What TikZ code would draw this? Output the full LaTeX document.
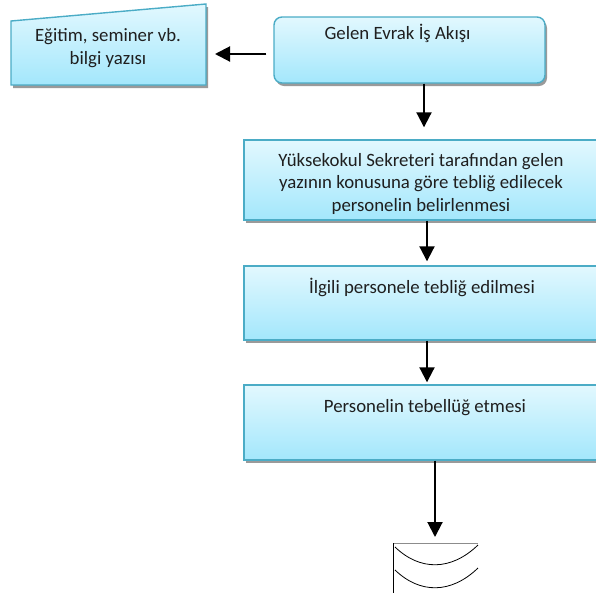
\documentclass[tikz,border=0pt]{standalone}
\usepackage{fontspec}
\setmainfont{Carlito}
\usetikzlibrary{arrows.meta,shadows,calc}
\definecolor{boxedge}{HTML}{4BACC6}
\definecolor{boxtop}{HTML}{E2F8FE}
\definecolor{boxbot}{HTML}{A3E7FC}
\definecolor{shadowgray}{HTML}{9A9A9A}
\tikzset{
  flowfill/.style={draw=boxedge, line width=1.4pt, top color=boxtop, bottom color=boxbot, inner sep=0pt},
  flowbox/.style={flowfill,
    drop shadow={shadow xshift=2pt, shadow yshift=-3pt, fill=shadowgray, opacity=1}},
  boxtext/.style={font=\fontsize{18.8}{22.5}\selectfont, align=center, text=black!88, inner sep=0pt, anchor=base},
  flowarrow/.style={line width=2pt, -{Triangle[length=15pt,width=15pt]}},
  thinline/.style={line width=0.8pt}
}
\begin{document}
\begin{tikzpicture}[x=1pt,y=-1pt]
\useasboundingbox (0,0) rectangle (596,592);
\clip (0,0) rectangle (596,592);
% manual input shape
\fill[shadowgray] (13,24) -- (208,7) -- (208,88) -- (13,88) -- cycle;
\path[flowfill] (11,21) coordinate (mi1) -- (206,4) coordinate (mi2) -- (206,85) coordinate (mi3) -- (11,85) coordinate (mi4) -- cycle;
\coordinate (mieast) at (206,54);
\node[boxtext] (mitext) at (108,64) {Eğitim, seminer vb.\\bilgi yazısı};
% top rounded box
\node[flowbox, rounded corners=8pt, minimum width=271pt, minimum height=66pt] (top) at (409.5,50) {};
\node[boxtext] (ttop) at (397.5,39) {Gelen Evrak İş Akışı};
% process boxes
\node[flowbox, minimum width=366pt, minimum height=80pt] (b2) at (427,180) {};
\node[boxtext] (t2) at (421,211) {Yüksekokul Sekreteri tarafından gelen\\yazının konusuna göre tebliğ edilecek\\personelin belirlenmesi};
\node[flowbox, minimum width=366pt, minimum height=74pt] (b3) at (427,303) {};
\node[boxtext] (t3) at (422,293) {İlgili personele tebliğ edilmesi};
\node[flowbox, minimum width=366pt, minimum height=75pt] (b4) at (427,422.5) {};
\node[boxtext] (t4) at (425,412) {Personelin tebellüğ etmesi};
% bottom connector shape
\coordinate (conn) at (435,543);
\draw[thinline, draw=black!45] (393,543) -- (478,543);
\draw[thinline] (393,543) -- (393,600);
\draw[thinline] (395,547) .. controls (420,571) and (451,571) .. (478,545);
\draw[thinline] (395,570) .. controls (420,594) and (451,594) .. (478,568);
% arrows
\draw[flowarrow] ($(top.west |- mieast)+(-7,0)$) coordinate (a0) -- ($(mieast)+(9,0)$);
\draw[flowarrow, shorten >=12pt] ($(top.south -| b2.north)+(-3,0)$) -- ($(b2.north)+(-3,0)$);
\draw[flowarrow, shorten >=4pt] (b2.south) -- (b3.north);
\draw[flowarrow, shorten >=2pt] (b3.south) -- (b4.north);
\draw[flowarrow, shorten >=6pt] (b4.south -| conn) -- (conn);
\end{tikzpicture}
\end{document}
